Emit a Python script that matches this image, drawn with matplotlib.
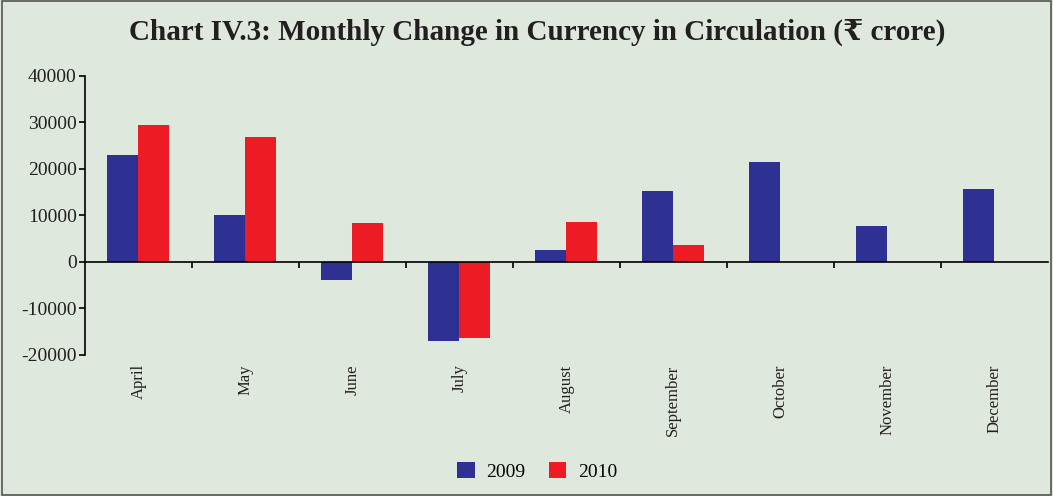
import matplotlib.pyplot as plt
import numpy as np
from matplotlib.patches import Rectangle

months = ["April", "May", "June", "July", "August", "September",
          "October", "November", "December"]
y2009 = [23100, 10100, -3800, -17000, 2600, 15300, 21600, 7800, 15700]
y2010 = [29500, 26800, 8400, -16400, 8700, 3700, np.nan, np.nan, np.nan]
yticks = [-20000, -10000, 0, 10000, 20000, 30000, 40000]

plt.rcParams["font.family"] = ["Liberation Serif", "DejaVu Serif", "DejaVu Sans"]
bg = "#dfe8dc"

fig = plt.figure(figsize=(10.53, 4.96), dpi=100, facecolor=bg)
ax = fig.add_axes([0.0807, 0.2843, 0.9143, 0.5625], facecolor=bg)

x = np.arange(len(months))
w = 0.29
ax.bar(x - w / 2, y2009, w, color="#2e3192", label="2009")
ax.bar(x + w / 2, y2010, w, color="#ed1c24", label="2010")

ax.set_xlim(-0.5, len(months) - 0.5)
ax.set_ylim(-20000, 40000)
ax.set_yticks(yticks)
ax.set_yticklabels([str(t) for t in yticks], fontsize=14, color="#231f20")
ax.tick_params(axis="y", length=4, width=1.2, pad=2)

for s in ["top", "right"]:
    ax.spines[s].set_visible(False)
ax.spines["left"].set_linewidth(1.2)
ax.spines["bottom"].set_position(("data", 0))
ax.spines["bottom"].set_linewidth(1.2)
ax.set_xticks(np.arange(0.5, len(months) - 0.5))
ax.set_xticklabels([])
ax.tick_params(axis="x", length=4, width=1.2, direction="out")

for i, m in enumerate(months):
    ax.text(i, -22000, m, rotation=90, ha="center", va="top", fontsize=12,
            color="#231f20")

fig.text(0.51, 0.935, "Chart IV.3: Monthly Change in Currency in Circulation (\u20b9 crore)",
         ha="center", va="center", fontsize=21, fontweight="bold", color="#231f20")

fig.legend(loc="center", bbox_to_anchor=(0.51, 0.05), ncol=2, frameon=False,
           fontsize=14, handlelength=0.9, handleheight=0.9, columnspacing=1.2,
           handletextpad=0.6)

fig.patches.append(Rectangle((0.002, 0.003), 0.996, 0.994, transform=fig.transFigure,
                             fill=False, edgecolor="#555555", linewidth=1.2))

fig.savefig("out.png", dpi=100, facecolor=bg)
